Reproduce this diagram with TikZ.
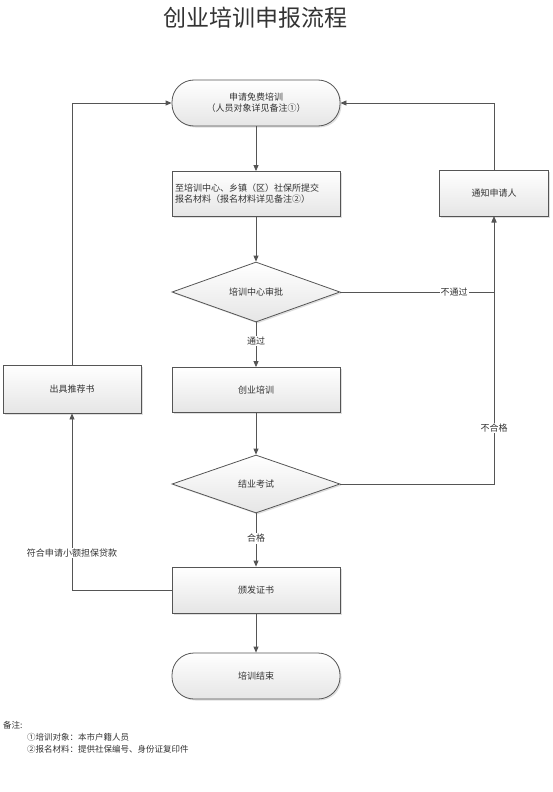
\documentclass[tikz,border=0pt]{standalone}
\usepackage{fontspec}
\setmainfont{Noto Sans CJK SC}
\usetikzlibrary{shapes.geometric,shadows,arrows.meta}
\definecolor{txt}{HTML}{333333}
\definecolor{edge}{HTML}{555555}
\definecolor{ln}{HTML}{555555}
\tikzset{
  shp/.style={draw=edge,line width=0.8pt,top color=white,bottom color=black!10,
    drop shadow={shadow xshift=1.5pt,shadow yshift=-1.5pt,opacity=0.25},
    font=\fontsize{9}{11}\selectfont,text=txt,align=center,inner sep=2pt},
  procbox/.style={shp,rectangle,minimum width=168pt,minimum height=45pt},
  termbox/.style={shp,rectangle,rounded corners=22pt,minimum width=168pt,minimum height=46pt},
  decbox/.style={shp,diamond,aspect=2.8,minimum width=168pt,minimum height=60pt,inner sep=0pt},
  conn/.style={draw=ln,line width=0.8pt},
  arr/.style={conn,-{Triangle[length=6pt,width=5pt]}},
  lbl/.style={fill=white,text=txt,font=\fontsize{9}{11}\selectfont,inner sep=1pt},
  note/.style={anchor=west,text=txt,font=\fontsize{8.5}{10}\selectfont,inner sep=0pt}
}
\begin{document}
\begin{tikzpicture}[x=1pt,y=-1pt]
\useasboundingbox (0,0) rectangle (553,792);
\node[text=txt,font=\fontsize{23}{26}\selectfont] (title) at (255,18) {创业培训申报流程};

\node[termbox] (start) at (256,103) {申请免费培训\\（人员对象详见备注①）};
\node[procbox,align=left,text width=162pt] (apply) at (256,194) {至培训中心、乡镇（区）社保所提交\\报名材料（报名材料详见备注②）};
\node[decbox] (d1) at (256,292) {培训中心审批};
\node[procbox] (train) at (256,390) {创业培训};
\node[decbox,minimum height=58pt] (d2) at (256,484) {结业考试};
\node[procbox,minimum height=46pt] (cert) at (256,590) {颁发证书};
\node[termbox] (endn) at (256,676) {培训结束};
\node[procbox,minimum width=138pt,minimum height=48pt] (rec) at (72,389) {出具推荐书};
\node[procbox,minimum width=109pt,minimum height=46pt] (notify) at (494,193) {通知申请人};

\draw[arr] (start) -- (apply);
\draw[arr] (apply) -- (d1);
\draw[arr] (d1) -- node[lbl,pos=0.42]{通过} (train);
\draw[arr] (train) -- (d2);
\draw[arr] (d2) -- node[lbl,pos=0.47]{合格} (cert);
\draw[arr] (cert) -- (endn);

\draw[arr] (d1.east) -- node[lbl,pos=0.74]{不通过} (d1.east -| notify.south) -- (notify.south);
\draw[arr] (d2.east) -- (d2.east -| notify.south) -- node[lbl,pos=0.21]{不合格} (notify.south);
\draw[arr] (cert.west) -- (cert.west -| rec.south) -- node[lbl,pos=0.21]{符合申请小额担保贷款} (rec.south);
\draw[arr] (rec.north) |- (start.west);
\draw[arr] (notify.north) |- (start.east);

\node[note] (n0) at (3,725) {备注:};
\node[note] (n1) at (27,737) {①培训对象：本市户籍人员};
\node[note] (n2) at (27,749) {②报名材料：提供社保编号、身份证复印件};
\end{tikzpicture}
\end{document}
